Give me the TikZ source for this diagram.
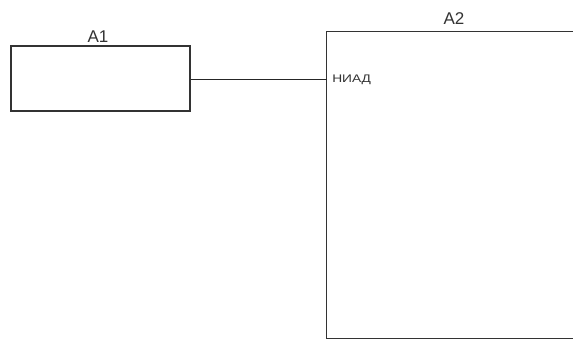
\documentclass[tikz,border=0pt]{standalone}
\usepackage{fontspec}
\setmainfont{Liberation Sans}
\begin{document}
\begin{tikzpicture}[x=1pt,y=-1pt,
  boxline/.style={draw=black!80,line width=1.1pt},
  blocklabel/.style={font=\fontsize{17}{17}\selectfont,text=black!80,inner sep=0pt},
  portlabel/.style={font=\fontsize{11}{11}\selectfont,text=black!80,inner sep=0pt,anchor=west,xscale=1.25}]
\useasboundingbox (0,0) rectangle (573,342);
\fill[white] (0,0) rectangle (573,342);
\node[boxline,rectangle,minimum width=179pt,minimum height=65pt,inner sep=0pt] (A1) at (100.5,78.5) {};
\node[rectangle,draw=none,minimum width=250pt,minimum height=307pt,inner sep=0pt,anchor=north west] (A2) at (326.5,31.5) {};
\draw[boxline] (A2.north east) -- (A2.north west) -- (A2.south west) -- (A2.south east);
\node[blocklabel] (A1lab) at (98,37) {A1};
\node[blocklabel] (A2lab) at (454,19) {A2};
\coordinate (a2in) at (326.5,79.5);
\draw[black!85,line width=1pt] (A1.east |- a2in) -- (a2in);
\node[portlabel] (niad) at (332,80) {НИАД};
\end{tikzpicture}
\end{document}
